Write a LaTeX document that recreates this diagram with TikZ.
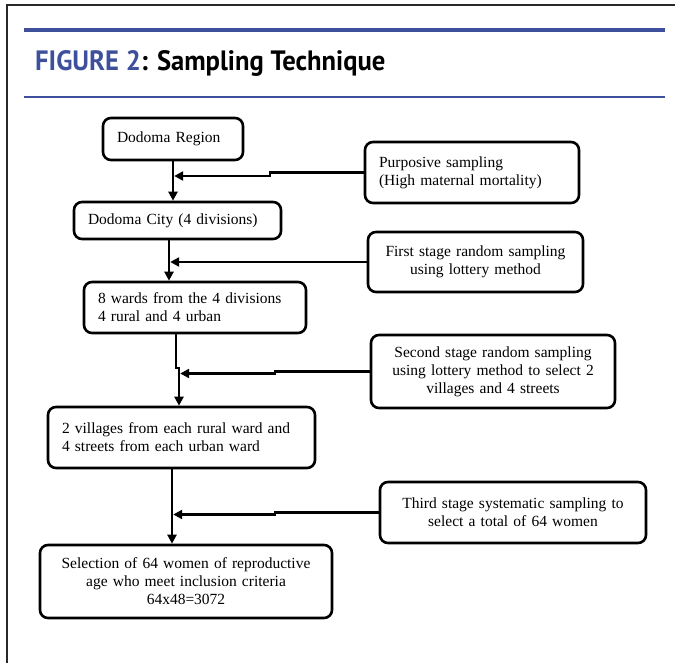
\documentclass[tikz,border=0pt]{standalone}
\usepackage{fontspec}
\setmainfont{Liberation Serif}
\newfontfamily\titlefont[FakeStretch=0.95]{PT Sans}
\usetikzlibrary{arrows.meta}
\definecolor{figblue}{RGB}{62,79,155}
\definecolor{framegray}{RGB}{40,40,40}
\begin{document}
\begin{tikzpicture}[x=1pt,y=-1pt,
 box/.style={draw, line width=2.6pt, rounded corners=8pt, inner xsep=14pt, inner ysep=2pt, font=\fontsize{15.5}{18}\selectfont},
 lbox/.style={box, align=left},
 cbox/.style={box, align=center},
 conn/.style={line width=2.5pt},
 arr/.style={conn, -{Triangle[length=9pt,width=9pt]}},
]
\useasboundingbox (0,0) rectangle (675,663);
\draw[framegray, line width=2pt] (7,663) -- (7,5) -- (675,5);
\draw[figblue, line width=4.5pt] (24,30) -- (665,30);
\draw[figblue, line width=2pt] (24,97) -- (665,97);
\node[anchor=base west, inner sep=0, font=\titlefont\bfseries\fontsize{28}{32}\selectfont] (title) at (35,71) {\textcolor{figblue}{FIGURE 2}: Sampling Technique};

\node[lbox, text width=112pt, minimum height=42pt] (r1) at (173,139) {Dodoma Region};
\node[lbox, text width=186pt, minimum height=61pt] (p1) at (472,172.5) {Purposive sampling\\(High maternal mortality)};
\node[lbox, text width=179pt, minimum height=37pt] (c1) at (177.5,220.5) {Dodoma City (4 divisions)};
\node[cbox, text width=187pt, minimum height=60pt] (s1) at (475.5,262) {First stage random sampling\\using lottery method};
\node[lbox, text width=194pt, minimum height=51pt] (w1) at (195,307.5) {8 wards from the 4 divisions\\4 rural and 4 urban};
\node[cbox, text width=216pt, minimum height=73pt] (s2) at (493,371.5) {Second stage random sampling\\using lottery method to select 2\\villages and 4 streets};
\node[lbox, text width=239pt, minimum height=61pt] (v1) at (181.5,437.5) {2 villages from each rural ward and\\4 streets from each urban ward};
\node[cbox, text width=238pt, minimum height=61pt] (s3) at (513,512.5) {Third stage systematic sampling to\\select a total of 64 women};
\node[cbox, text width=264pt, minimum height=73pt] (f1) at (186,581.5) {Selection of 64 women of reproductive\\age who meet inclusion criteria\\64x48=3072};

% connectors
\draw[arr] (r1.south) -- (r1.south |- c1.north);
\coordinate (j1) at (270,176);
\draw[arr, shorten >=1.2pt] (p1.west) -- (p1.west -| j1) -- (j1) -- (j1 -| r1.south);

\coordinate (x2) at (169,0);
\draw[arr] (c1.south -| x2) -- (w1.north -| x2);
\draw[arr, shorten >=1.2pt] (s1.west) -- (s1.west -| x2);

\coordinate (k3) at (176,368);
\coordinate (k3b) at (179,368);
\draw[arr] (w1.south -| k3) -- (k3) -- (k3b) -- (v1.north -| k3b);
\coordinate (j3) at (275,373.5);
\draw[arr, shorten >=1.2pt] (s2.west) -- (s2.west -| j3) -- (j3) -- (j3 -| k3b);

\coordinate (x4) at (172,0);
\draw[arr] (v1.south -| x4) -- (f1.north -| x4);
\coordinate (j4) at (275,514.5);
\draw[arr, shorten >=1.2pt] (s3.west) -- (s3.west -| j4) -- (j4) -- (j4 -| x4);
\end{tikzpicture}
\end{document}
